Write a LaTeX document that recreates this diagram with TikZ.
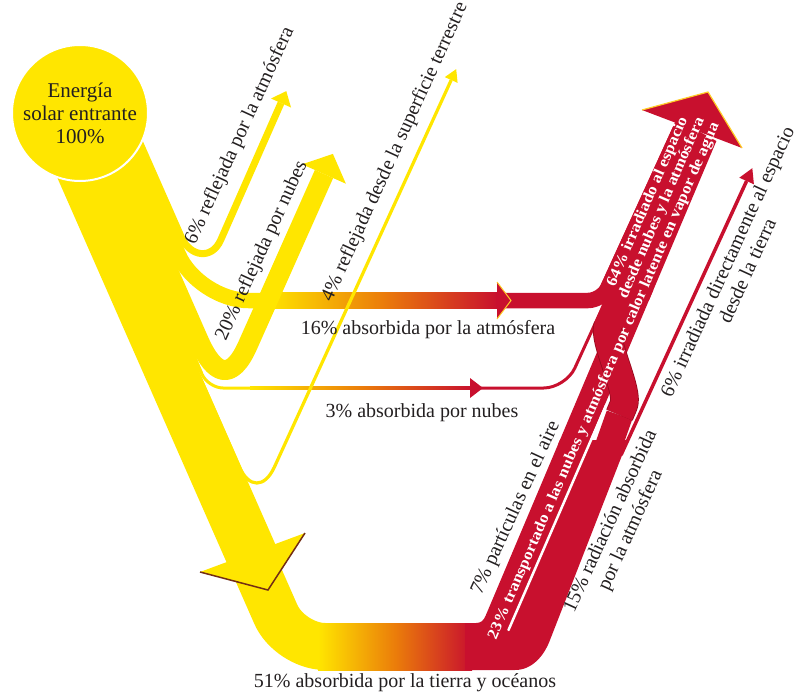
\documentclass[tikz,border=0pt]{standalone}
\usepackage{fontspec}
\setmainfont{Liberation Serif}
\newfontfamily\wfont{Liberation Serif}[FakeStretch=1.1]
\definecolor{ylw}{RGB}{255,230,0}
\definecolor{org}{RGB}{235,125,10}
\definecolor{rd}{RGB}{200,16,46}
\definecolor{rdk}{RGB}{150,10,30}
\definecolor{brn}{RGB}{115,45,20}
\definecolor{txtc}{RGB}{35,31,32}
\definecolor{glow}{RGB}{255,205,40}
\tikzset{
  band/.style={line cap=butt, line join=round},
  ytxt/.style={text=txtc, font=\fontsize{20}{22}\selectfont, inner sep=0pt, align=center},
  wtxt/.style={text=white, font=\wfont\bfseries\fontsize{15.5}{15.5}\selectfont, inner sep=0pt, align=center},
  grad/.style={left color=ylw, right color=rd, middle color=org},
}
\begin{document}
\begin{tikzpicture}[x=1pt,y=-1pt]
\useasboundingbox (0,0) rectangle (798,694);
% trunk (55% part plus the stepped upper part)
\fill[ylw] (23.1,100) -- (123.9,100) -- (181.5,231) -- (175,231) -- (188.7,262) -- (174.2,262)
  -- (199.7,320) -- (179.7,320) -- (202.6,372) -- (199.5,372) -- (277,548) -- (228.2,566) -- cycle;
% yellow branches
\draw[band, ylw, line width=7pt] (125.3,110) -- (181.2,236.9) .. controls (190.1,257) and (211.8,260.1) .. (220.7,240) -- (281,103);
\draw[band, ylw, line width=15.5pt, rounded corners=50pt] (114.8,110) -- (198.6,300.5) -- (268,300.5);
\draw[band, ylw, line width=3pt, rounded corners=15pt] (85.8,110) -- (208.1,388) -- (252,388);
% bottom band
\draw[band, ylw, line width=47pt, rounded corners=35pt] (251.9,560) -- (290,646.5) -- (360,646.5);
% gradients
\shade[grad] (318,623) rectangle (472,670);
\shade[grad] (266,292.75) rectangle (498,308.25);
\shade[grad] (250,386.5) rectangle (472,389.5);
% 20% branch and 4% line on top
\draw[band, ylw, line width=20pt] (97.3,110) -- (198.5,340) .. controls (214.6,376.6) and (231.7,381.6) .. (247.9,345) -- (324,174);
\draw[band, ylw, line width=3.2pt, rounded corners=43pt] (82.3,110) -- (256.6,506) -- (451.2,80);
% red region: 64% band
\fill[rd] (598.4,290) -- (676.5,119) -- (716.4,141) -- (649.1,300) -- cycle;
\draw[band, rd, line width=15.5pt, rounded corners=14pt] (496,300.5) -- (602.1,300.5) -- (680,130);
\draw[band, rd, line width=3pt, rounded corners=22pt] (470,388) -- (565.7,388) -- (610.5,290);
% lower red fan (23% + 15% + 6%)
\fill[rd] (465,623) -- (476,623) .. controls (481,623) and (483.5,620.5) .. (485.5,616) -- (559.9,440)
  -- (628,440) -- (550,640) .. controls (544,656) and (532,670) .. (515,670) -- (465,670) -- cycle;
\fill[rd] (557.8,445) -- (623.3,290) -- (653.3,290) -- (587.8,445) -- cycle;
\draw[white, line width=2.5pt, line cap=round] (508.5,630) -- (606.2,405);
\draw[band, rd, line width=27pt] (608.9,445) -- (619.5,415);
\draw[band, rdk, line width=28.6pt] (619.5,415) -- (623.7,405) .. controls (629.6,391.2) and (602,338.8) .. (608,325);
\draw[band, rd, line width=27pt] (619.5,415) -- (623.7,405) .. controls (629.6,391.2) and (602,338.8) .. (608,325) -- (689.4,140);
\draw[band, rd, line width=3.5pt] (621,455) -- (746.6,181);
% arrowheads
\fill[ylw] (271,98.5) -- (286.3,91.1) -- (291,107.5) -- cycle;
\fill[ylw] (302.1,164.3) -- (332.9,153.9) -- (345.9,183.7) -- cycle;
\fill[ylw] (444.8,77.1) -- (456.2,69.1) -- (457.6,82.9) -- cycle;
\fill[ylw] (200,572) -- (268,590) -- (305,533) -- cycle;
\draw[brn, line width=1.5pt] (200,572) -- (268,590) -- (305,533);
\fill[rd] (497,282) -- (511,300.5) -- (497,319) -- cycle;
\draw[glow, line width=1pt] (497,282) -- (511,300.5) -- (497,319);
\fill[rd] (470,378) -- (483,388) -- (470,398) -- cycle;
\fill[rd] (642,110) -- (708,92) -- (742,148) -- cycle;
\draw[glow, line width=1.2pt] (642,110) -- (708,92) -- (742,148);
\fill[rd] (739.3,177.7) -- (752.3,168.2) -- (753.9,184.3) -- cycle;
% sun
\node[circle, fill=ylw, draw=white, line width=2pt, minimum size=136pt, inner sep=0pt, ytxt, font=\fontsize{21}{23}\selectfont] (sun) at (80,113) {Energía\\solar entrante\\100\%};
% labels
\node[ytxt, rotate=65.4] (t6) at (240,136) {6\% reflejada por la atmósfera};
\node[ytxt, rotate=65.4] (t20) at (262,251) {20\% reflejada por nubes};
\node[ytxt, rotate=65.4] (t4) at (395,152) {4\% reflejada desde la superficie terrestre};
\node[ytxt] (t16) at (428,330) {16\% absorbida por la atmósfera};
\node[ytxt] (t3) at (422,413) {3\% absorbida por nubes};
\node[ytxt] (t51) at (405,683) {51\% absorbida por la tierra y océanos};
\node[wtxt, rotate=66.6] (t64) at (654.9,205) {64\% irradiado al espacio\\desde nubes y la atmósfera};
\node[wtxt, rotate=66.6] (t23) at (604.1,381) {23\% transportado a las nubes y atmósfera por calor latente en vapor de agua};
\node[ytxt, rotate=65.4] (t7) at (516,508) {7\% partículas en el aire};
\node[ytxt, rotate=65.4] (t15) at (621,526) {15\% radiación absorbida\\por la atmósfera};
\node[ytxt, rotate=65.4] (t6r) at (737,266) {6\% irradiada directamente al espacio\\desde la tierra};
\end{tikzpicture}
\end{document}
